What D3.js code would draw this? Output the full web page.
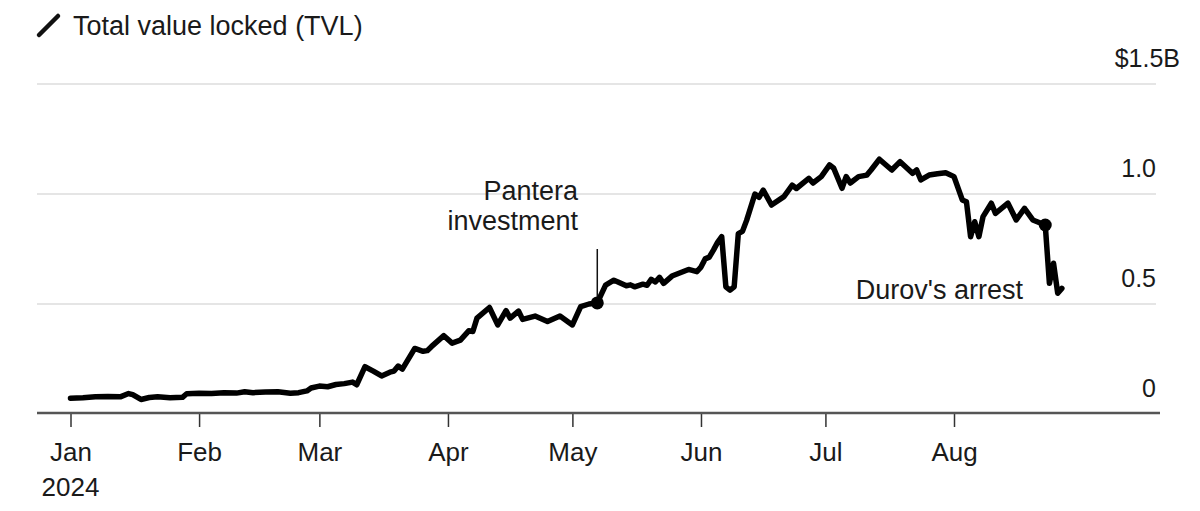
<!DOCTYPE html>
<html>
<head>
<meta charset="utf-8">
<script src="https://cdn.jsdelivr.net/npm/d3@7"></script>
<style>
  body { margin: 0; background: #fff; }
  svg text { font-family: "Liberation Sans", Arial, Helvetica, sans-serif; fill: #1a1a1a; }
</style>
</head>
<body>
<svg id="chart" width="1200" height="511"></svg>
<script>
// ---- data ----
const dates = [
  "2024-01-01","2024-01-04","2024-01-07","2024-01-10","2024-01-13","2024-01-15","2024-01-16","2024-01-18",
  "2024-01-20","2024-01-22","2024-01-25","2024-01-28","2024-01-29","2024-02-01","2024-02-04","2024-02-07",
  "2024-02-10","2024-02-12","2024-02-14","2024-02-17","2024-02-20","2024-02-23","2024-02-25","2024-02-27",
  "2024-02-28","2024-03-01","2024-03-03","2024-03-05","2024-03-07","2024-03-09","2024-03-10","2024-03-12",
  "2024-03-14","2024-03-16","2024-03-18","2024-03-19","2024-03-20","2024-03-21","2024-03-24","2024-03-26",
  "2024-03-27","2024-03-28","2024-03-31","2024-04-02","2024-04-04","2024-04-06","2024-04-07","2024-04-08",
  "2024-04-11","2024-04-13","2024-04-15","2024-04-16","2024-04-18","2024-04-19","2024-04-22","2024-04-25",
  "2024-04-28","2024-05-01","2024-05-03","2024-05-05","2024-05-07","2024-05-09","2024-05-11","2024-05-12",
  "2024-05-14","2024-05-15","2024-05-16","2024-05-18","2024-05-19","2024-05-20","2024-05-21","2024-05-22",
  "2024-05-23","2024-05-25","2024-05-27","2024-05-29","2024-05-31","2024-06-01","2024-06-02","2024-06-03",
  "2024-06-04","2024-06-05","2024-06-06","2024-06-07","2024-06-08","2024-06-09","2024-06-10","2024-06-11",
  "2024-06-12","2024-06-14","2024-06-15","2024-06-16","2024-06-18","2024-06-21","2024-06-23","2024-06-24",
  "2024-06-27","2024-06-28","2024-06-30","2024-07-02","2024-07-03","2024-07-05","2024-07-06","2024-07-07",
  "2024-07-09","2024-07-11","2024-07-12","2024-07-14","2024-07-17","2024-07-19","2024-07-22","2024-07-23",
  "2024-07-24","2024-07-26","2024-07-28","2024-07-30","2024-08-01","2024-08-03","2024-08-04","2024-08-05",
  "2024-08-06","2024-08-07","2024-08-08","2024-08-10","2024-08-11","2024-08-14","2024-08-16","2024-08-18",
  "2024-08-20","2024-08-23","2024-08-24","2024-08-25","2024-08-26","2024-08-27"
];

const tvl = [
  0.072,0.074,0.078,0.080,0.078,0.093,0.088,0.066,
  0.075,0.078,0.074,0.076,0.092,0.094,0.093,0.097,
  0.095,0.101,0.097,0.100,0.101,0.094,0.097,0.105,
  0.118,0.127,0.124,0.134,0.138,0.145,0.133,0.215,
  0.195,0.173,0.190,0.195,0.218,0.204,0.298,0.285,
  0.288,0.306,0.356,0.322,0.336,0.378,0.375,0.436,
  0.484,0.405,0.470,0.436,0.468,0.430,0.445,0.420,
  0.445,0.405,0.488,0.500,0.505,0.586,0.608,0.600,
  0.583,0.587,0.578,0.590,0.585,0.612,0.600,0.621,
  0.594,0.627,0.642,0.657,0.647,0.668,0.705,0.713,
  0.745,0.780,0.806,0.578,0.563,0.578,0.820,0.830,
  0.880,1.000,0.985,1.018,0.950,0.988,1.040,1.025,
  1.071,1.050,1.079,1.132,1.117,1.026,1.079,1.050,
  1.079,1.086,1.109,1.158,1.109,1.147,1.094,1.109,
  1.064,1.086,1.092,1.097,1.079,0.973,0.965,0.806,
  0.874,0.806,0.897,0.958,0.912,0.958,0.882,0.935,
  0.882,0.859,0.594,0.685,0.549,0.571
];

const monthTicks = ["2024-01-01","2024-02-01","2024-03-01","2024-04-01","2024-05-01","2024-06-01","2024-07-01","2024-08-01"];
const monthLabels = ["Jan","Feb","Mar","Apr","May","Jun","Jul","Aug"];
const yTicks = [0, 0.5, 1.0, 1.5];
const yLabels = ["0", "0.5", "1.0", "$1.5B"];

const events = [
  { date: "2024-05-07", lines: ["Pantera", "investment"] },
  { date: "2024-08-23", lines: ["Durov's arrest"] }
];

// ---- setup ----
const parse = d3.timeParse("%Y-%m-%d");
const data = dates.map((d, i) => ({ date: parse(d), value: tvl[i] }));

const svg = d3.select("#chart");
const left = 37, right = 1158;

const x = d3.scaleTime()
  .domain([parse("2024-01-01"), parse("2024-08-01")])
  .range([70.5, 954]);

const y = d3.scaleLinear()
  .domain([0, 1.5])
  .range([414, 84]);

// ---- header ----
svg.append("line")
  .attr("x1", 39).attr("y1", 35)
  .attr("x2", 58).attr("y2", 16)
  .attr("stroke", "#111")
  .attr("stroke-width", 4.5)
  .attr("stroke-linecap", "round");

svg.append("text")
  .attr("x", 73).attr("y", 35)
  .style("font-size", "27px")
  .text("Total value locked (TVL)");

// ---- gridlines + y labels ----
svg.append("g")
  .selectAll("line")
  .data(yTicks.filter(d => d > 0))
  .join("line")
  .attr("x1", left).attr("x2", right - 2)
  .attr("y1", d => y(d)).attr("y2", d => y(d))
  .attr("stroke", "#dcdcdc")
  .attr("stroke-width", 1.5);

svg.append("g")
  .selectAll("text")
  .data(yTicks)
  .join("text")
  .attr("x", (d, i) => i === yTicks.length - 1 ? 1180 : 1156)
  .attr("y", d => y(d) - 17)
  .attr("text-anchor", "end")
  .style("font-size", "25px")
  .text((d, i) => yLabels[i]);

// ---- x axis ----
const xAxis = d3.axisBottom(x)
  .tickValues(monthTicks.map(parse))
  .tickSize(13)
  .tickFormat((d, i) => monthLabels[i]);

const ax = svg.append("g")
  .attr("transform", "translate(0,414)")
  .call(xAxis);

ax.select(".domain").remove();
ax.selectAll(".tick line").attr("stroke", "#333").attr("stroke-width", 1.5);
ax.selectAll(".tick text")
  .attr("y", 47)
  .attr("dy", 0)
  .style("font-size", "26px")
  .style("fill", "#1a1a1a");

svg.append("line")
  .attr("x1", left).attr("x2", 1160)
  .attr("y1", 413).attr("y2", 413)
  .attr("stroke", "#555")
  .attr("stroke-width", 2.5);

svg.append("text")
  .attr("x", x(parse("2024-01-01")))
  .attr("y", 496)
  .attr("text-anchor", "middle")
  .style("font-size", "26px")
  .text("2024");

// ---- line ----
const line = d3.line()
  .x(d => x(d.date))
  .y(d => y(d.value));

svg.append("path")
  .datum(data)
  .attr("fill", "none")
  .attr("stroke", "#000")
  .attr("stroke-width", 5.5)
  .attr("stroke-linejoin", "round")
  .attr("stroke-linecap", "round")
  .attr("d", line);

// ---- annotations ----
const evPts = events.map(e => {
  const dt = parse(e.date);
  const v = data.find(d => +d.date === +dt).value;
  return { ...e, date: dt, value: v };
});

// Pantera
const pan = evPts[0];
svg.append("line")
  .attr("x1", x(pan.date)).attr("x2", x(pan.date))
  .attr("y1", 249).attr("y2", y(pan.value))
  .attr("stroke", "#111")
  .attr("stroke-width", 1.5);

svg.append("text")
  .attr("x", 578).attr("y", 200)
  .attr("text-anchor", "end")
  .style("font-size", "27px")
  .selectAll("tspan")
  .data(pan.lines)
  .join("tspan")
  .attr("x", 578)
  .attr("dy", (d, i) => i === 0 ? 0 : 30)
  .text(d => d);

// Durov
const dur = evPts[1];
svg.append("text")
  .attr("x", 1023).attr("y", 299)
  .attr("text-anchor", "end")
  .style("font-size", "27px")
  .text(dur.lines[0]);

svg.append("g")
  .selectAll("circle")
  .data(evPts)
  .join("circle")
  .attr("cx", d => x(d.date))
  .attr("cy", d => y(d.value))
  .attr("r", 6.5)
  .attr("fill", "#000");
</script>
</body>
</html>
